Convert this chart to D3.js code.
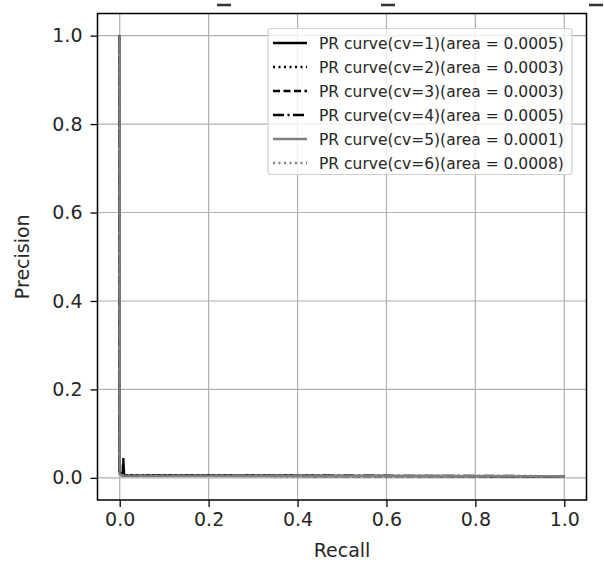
<!DOCTYPE html>
<html>
<head>
<meta charset="utf-8">
<script src="https://cdn.jsdelivr.net/npm/d3@7"></script>
<style>
  body { margin: 0; background: #fff; }
  text { font-family: "DejaVu Sans", sans-serif; fill: #262626; }
</style>
</head>
<body>
<script>
// PR curves, one per cross-validation fold
var cvIds = [1, 2, 3, 4, 5, 6];
var areas = ["0.0005", "0.0003", "0.0003", "0.0005", "0.0001", "0.0008"];

var recall1 = [0, 0, 0.008, 0.008, 0.010, 0.3, 1.0];
var precision1 = [1.0, 0.012, 0.012, 0.045, 0.006, 0.005, 0.004];
var recall2 = [0, 0, 0.006, 0.5, 1.0];
var precision2 = [1.0, 0.010, 0.005, 0.004, 0.004];
var recall3 = [0, 0, 0.005, 0.6, 1.0];
var precision3 = [1.0, 0.015, 0.005, 0.004, 0.004];
var recall4 = [0, 0, 0.007, 0.007, 0.009, 1.0];
var precision4 = [1.0, 0.010, 0.010, 0.030, 0.006, 0.004];
var recall5 = [0, 0, 0.004, 0.4, 1.0];
var precision5 = [1.0, 0.008, 0.005, 0.004, 0.004];
var recall6 = [0, 0, 0.006, 0.7, 1.0];
var precision6 = [1.0, 0.020, 0.006, 0.005, 0.004];

var xTicks = [0.0, 0.2, 0.4, 0.6, 0.8, 1.0];
var yTicks = [0.0, 0.2, 0.4, 0.6, 0.8, 1.0];

var recalls = [recall1, recall2, recall3, recall4, recall5, recall6];
var precisions = [precision1, precision2, precision3, precision4, precision5, precision6];

// line styles like matplotlib '-', ':', '--', '-.' in black, then grey
var styles = [
  {color: "#000", dash: null},
  {color: "#000", dash: "2,3.5"},
  {color: "#000", dash: "7,3.5"},
  {color: "#000", dash: "11,3.5,2,3.5"},
  {color: "#808080", dash: null},
  {color: "#808080", dash: "2,3.5"}
];

var W = 604, H = 569;
var plot = {left: 97.5, right: 586.5, top: 13.5, bottom: 500};

var svg = d3.select("body").append("svg")
  .attr("width", W)
  .attr("height", H);

var x = d3.scaleLinear().domain([-0.05, 1.05]).range([plot.left, plot.right]);
var y = d3.scaleLinear().domain([-0.05, 1.05]).range([plot.bottom, plot.top]);

// clipped title remains at the very top
var titleBits = [224, 388, 596];
svg.selectAll(".tbit").data(titleBits).enter().append("line")
  .attr("x1", function(d) { return d - 7; })
  .attr("x2", function(d) { return d + 7; })
  .attr("y1", 5).attr("y2", 5)
  .attr("stroke", "#333").attr("stroke-width", 2.5);

// grid
svg.append("g").selectAll("line").data(xTicks).enter().append("line")
  .attr("x1", function(d) { return x(d); })
  .attr("x2", function(d) { return x(d); })
  .attr("y1", plot.top).attr("y2", plot.bottom)
  .attr("stroke", "#b0b0b0").attr("stroke-width", 1.2);
svg.append("g").selectAll("line").data(yTicks).enter().append("line")
  .attr("y1", function(d) { return y(d); })
  .attr("y2", function(d) { return y(d); })
  .attr("x1", plot.left).attr("x2", plot.right)
  .attr("stroke", "#b0b0b0").attr("stroke-width", 1.2);

// curves
var line = d3.line()
  .x(function(d) { return x(d[0]); })
  .y(function(d) { return y(d[1]); });

cvIds.forEach(function(id, i) {
  var pts = d3.zip(recalls[i], precisions[i]);
  svg.append("path")
    .datum(pts)
    .attr("d", line)
    .attr("fill", "none")
    .attr("stroke", styles[i].color)
    .attr("stroke-width", 2.3)
    .attr("stroke-dasharray", styles[i].dash);
});

// axes
var xAxis = svg.append("g")
  .attr("transform", "translate(0," + plot.bottom + ")")
  .call(d3.axisBottom(x).tickValues(xTicks).tickFormat(d3.format(".1f"))
    .tickSize(7).tickPadding(6));
var yAxis = svg.append("g")
  .attr("transform", "translate(" + plot.left + ",0)")
  .call(d3.axisLeft(y).tickValues(yTicks).tickFormat(d3.format(".1f"))
    .tickSize(7).tickPadding(8));
[xAxis, yAxis].forEach(function(a) {
  a.select(".domain").remove();
  a.selectAll(".tick line").attr("stroke", "#000").attr("stroke-width", 1.3);
  a.selectAll(".tick text")
    .style("font-family", "DejaVu Sans, sans-serif")
    .style("font-size", "19px")
    .attr("fill", "#222");
});

// frame
svg.append("rect")
  .attr("x", plot.left).attr("y", plot.top)
  .attr("width", plot.right - plot.left).attr("height", plot.bottom - plot.top)
  .attr("fill", "none").attr("stroke", "#000").attr("stroke-width", 1.5);

// axis titles
svg.append("text")
  .attr("x", (plot.left + plot.right) / 2).attr("y", 557)
  .attr("text-anchor", "middle")
  .style("font-size", "19px")
  .text("Recall");
svg.append("text")
  .attr("transform", "translate(29," + ((plot.top + plot.bottom) / 2) + ") rotate(-90)")
  .attr("text-anchor", "middle")
  .style("font-size", "19px")
  .text("Precision");

// legend
var lg = svg.append("g");
lg.append("rect")
  .attr("x", 268).attr("y", 28.5)
  .attr("width", 304).attr("height", 146)
  .attr("rx", 3)
  .attr("fill", "#fff").attr("fill-opacity", 0.8)
  .attr("stroke", "#d0d0d0").attr("stroke-width", 1.2);

var rows = lg.selectAll(".row").data(cvIds).enter().append("g")
  .attr("transform", function(d, i) { return "translate(273," + (43 + i * 24) + ")"; });
rows.append("line")
  .attr("x1", 0).attr("x2", 34)
  .attr("stroke", function(d, i) { return styles[i].color; })
  .attr("stroke-width", 2.5)
  .attr("stroke-dasharray", function(d, i) { return styles[i].dash; });
rows.append("text")
  .attr("x", 46).attr("dy", "0.36em")
  .style("font-size", "15.5px")
  .text(function(d, i) { return "PR curve(cv=" + d + ")(area = " + areas[i] + ")"; });
</script>
</body>
</html>
